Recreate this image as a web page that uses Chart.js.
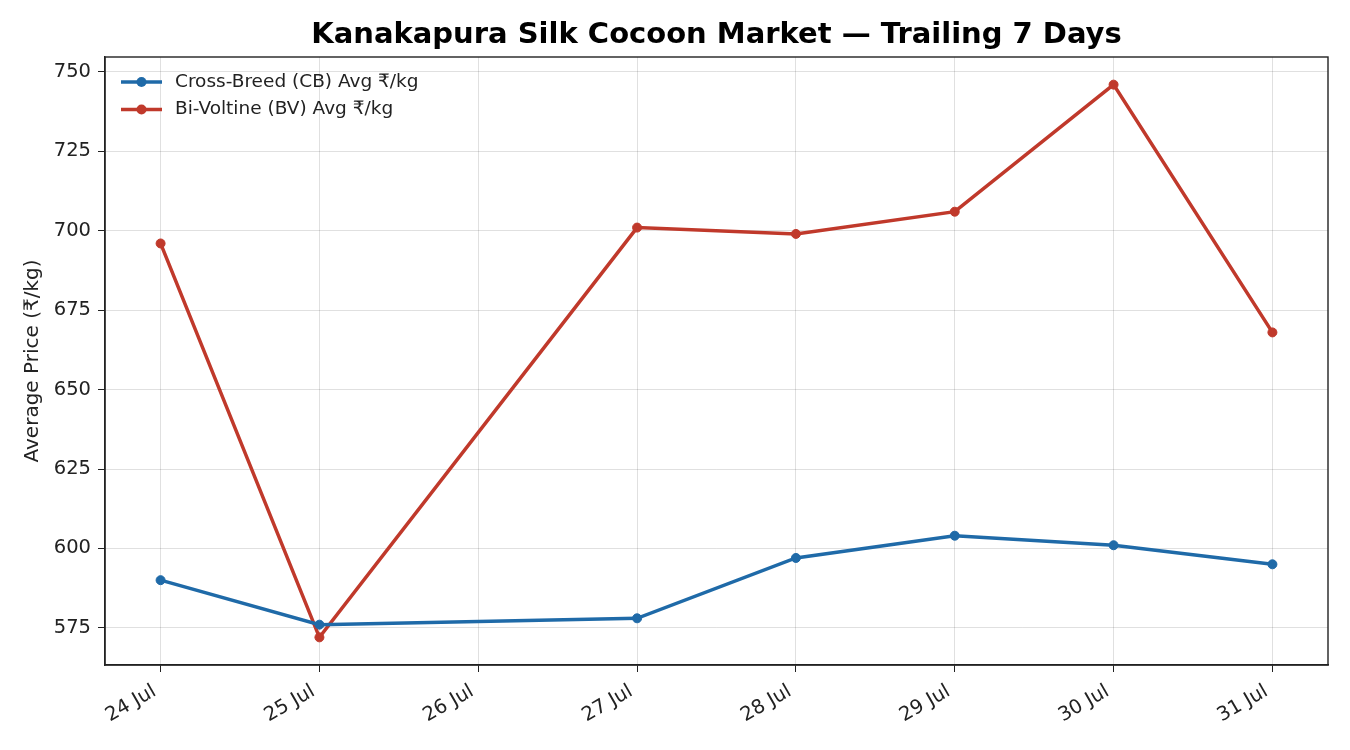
<!DOCTYPE html>
<html>
<head>
<meta charset="utf-8">
<script src="https://cdn.jsdelivr.net/npm/chart.js@4"></script>
<style>
  html, body { margin: 0; padding: 0; background: #fff; }
  #wrap { width: 1350px; height: 750px; }
</style>
</head>
<body>
<div id="wrap"><canvas id="priceChart" width="1350" height="750"></canvas></div>
<script>
// Kanakapura cocoon prices, 24-31 Jul (no market on 26 Jul)
const days = [24, 25, 27, 28, 29, 30, 31];
const cbPrices = [590, 576, 578, 597, 604, 601, 595];
const bvPrices = [696, 572, 701, 699, 706, 746, 668];
const yTicks = [575, 600, 625, 650, 675, 700, 725, 750];
const chartTitle = 'Kanakapura Silk Cocoon Market — Trailing 7 Days';

const FONT = "'DejaVu Sans', sans-serif";
const INK = '#222';

// title centred over the plot, frame on all four sides, legend like matplotlib
const framePlugin = {
  id: 'frame',
  afterDraw(chart) {
    const { ctx, chartArea: a } = chart;
    ctx.save();
    ctx.strokeStyle = INK;
    ctx.lineWidth = 1.4;
    ctx.strokeRect(a.left, a.top, a.right - a.left, a.bottom - a.top);

    ctx.fillStyle = '#000';
    ctx.font = 'bold 29px ' + FONT;
    ctx.textAlign = 'center';
    ctx.textBaseline = 'middle';
    ctx.fillText(chartTitle, (a.left + a.right) / 2, 35);

    ctx.textAlign = 'left';
    ctx.font = '18.5px ' + FONT;
    chart.data.datasets.forEach((ds, i) => {
      const y = a.top + 25 + i * 27.5;
      const x0 = a.left + 16;
      ctx.strokeStyle = ds.borderColor;
      ctx.lineWidth = 3.5;
      ctx.beginPath();
      ctx.moveTo(x0, y);
      ctx.lineTo(x0 + 41, y);
      ctx.stroke();
      ctx.fillStyle = ds.borderColor;
      ctx.beginPath();
      ctx.arc(x0 + 20.5, y, 5, 0, Math.PI * 2);
      ctx.fill();
      ctx.fillStyle = INK;
      ctx.fillText(ds.label, x0 + 54, y);
    });
    ctx.restore();
  }
};

new Chart(document.getElementById('priceChart').getContext('2d'), {
  type: 'line',
  data: {
    datasets: [{
      label: 'Cross-Breed (CB) Avg ₹/kg',
      data: days.map((d, i) => ({ x: d, y: cbPrices[i] })),
      borderColor: '#1f6aa8',
      backgroundColor: '#1f6aa8',
      borderWidth: 3.5,
      pointRadius: 4.5,
      pointBorderWidth: 1,
      pointHoverRadius: 4.5,
      tension: 0
    }, {
      label: 'Bi-Voltine (BV) Avg ₹/kg',
      data: days.map((d, i) => ({ x: d, y: bvPrices[i] })),
      borderColor: '#c0392b',
      backgroundColor: '#c0392b',
      borderWidth: 3.5,
      pointRadius: 4.5,
      pointBorderWidth: 1,
      pointHoverRadius: 4.5,
      tension: 0
    }]
  },
  options: {
    responsive: false,
    animation: false,
    layout: { padding: { top: 57, right: 22, left: 0, bottom: 0 } },
    plugins: {
      legend: { display: false },
      tooltip: { enabled: false },
      title: { display: false }
    },
    scales: {
      x: {
        type: 'linear',
        min: 23.65,
        max: 31.35,
        afterBuildTicks(scale) {
          scale.ticks = days.concat([26]).sort((a, b) => a - b).map(v => ({ value: v }));
        },
        afterFit(scale) { scale.height = 85; },
        ticks: {
          stepSize: 1,
          includeBounds: false,
          minRotation: 30,
          maxRotation: 30,
          labelOffset: -6,
          color: INK,
          padding: 8,
          font: { family: FONT, size: 19.5 },
          callback: v => v + ' Jul'
        },
        grid: { color: 'rgba(0,0,0,0.12)', tickColor: INK, tickLength: 7, lineWidth: 1 },
        border: { color: INK, width: 1.4 }
      },
      y: {
        min: 563.3,
        max: 754.7,
        afterBuildTicks(scale) {
          scale.ticks = yTicks.map(v => ({ value: v }));
        },
        afterFit(scale) { scale.width = 105; },
        ticks: {
          stepSize: 25,
          includeBounds: false,
          color: INK,
          padding: 7,
          font: { family: FONT, size: 19.5 }
        },
        grid: { color: 'rgba(0,0,0,0.12)', tickColor: INK, tickLength: 7, lineWidth: 1 },
        border: { color: INK, width: 1.4 },
        title: {
          display: true,
          text: 'Average Price (₹/kg)',
          color: INK,
          font: { family: FONT, size: 20 },
          padding: { top: 21, bottom: 4 }
        }
      }
    }
  },
  plugins: [framePlugin]
});
</script>
</body>
</html>
